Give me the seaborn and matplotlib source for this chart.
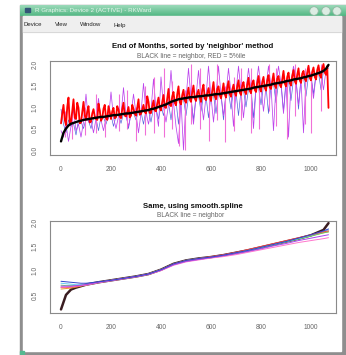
import numpy as np
import matplotlib
matplotlib.use("Agg")
import matplotlib.pyplot as plt
import seaborn as sns
from matplotlib.patches import Rectangle, Circle

sns.set_style("white")
plt.rcParams["font.family"] = ["Liberation Sans", "DejaVu Sans"]

# ----------------------------------------
# Data
# ----------------------------------------
x_idx = np.arange(0, 1071, 10)
x_mid = np.arange(5, 1066, 10)

neighbor = [
    0.20, 0.40, 0.50, 0.57, 0.61, 0.63, 0.65, 0.67, 0.68, 0.70,
    0.71, 0.72, 0.73, 0.74, 0.75, 0.76, 0.77, 0.77, 0.78, 0.79,
    0.80, 0.81, 0.81, 0.82, 0.83, 0.84, 0.85, 0.85, 0.86, 0.87,
    0.88, 0.89, 0.90, 0.91, 0.92, 0.93, 0.95, 0.96, 0.98, 1.00,
    1.02, 1.04, 1.06, 1.09, 1.12, 1.14, 1.16, 1.18, 1.19, 1.20,
    1.21, 1.22, 1.23, 1.23, 1.24, 1.25, 1.25, 1.26, 1.27, 1.27,
    1.28, 1.29, 1.30, 1.30, 1.31, 1.32, 1.33, 1.34, 1.35, 1.36,
    1.37, 1.38, 1.39, 1.40, 1.41, 1.42, 1.43, 1.45, 1.46, 1.47,
    1.48, 1.49, 1.50, 1.51, 1.52, 1.54, 1.55, 1.56, 1.57, 1.58,
    1.60, 1.61, 1.62, 1.64, 1.65, 1.66, 1.67, 1.69, 1.70, 1.72,
    1.73, 1.75, 1.77, 1.79, 1.81, 1.84, 1.89, 1.98,
]

# red 5%ile series, values at x = 0, 10, 20, ...
pct5_red = [
    0.62, 1.05, 0.58, 1.22, 0.66, 1.18, 0.72, 0.98, 0.64, 1.12,
    0.70, 1.02, 0.66, 0.95, 0.72, 1.08, 0.68, 0.96, 0.74, 1.02,
    0.72, 0.98, 0.76, 0.94, 0.74, 1.10, 0.78, 1.00, 0.80, 0.96,
    0.80, 1.18, 0.84, 1.05, 0.85, 1.12, 0.86, 1.15, 0.90, 1.22,
    0.92, 1.28, 0.98, 1.42, 1.02, 1.35, 1.04, 1.48, 1.06, 1.40,
    1.10, 1.45, 1.12, 1.50, 1.14, 1.40, 1.12, 1.52, 1.16, 1.44,
    1.14, 1.58, 1.18, 1.48, 1.20, 1.55, 1.22, 1.60, 1.24, 1.52,
    1.26, 1.62, 1.28, 1.58, 1.30, 1.68, 1.32, 1.62, 1.35, 1.72,
    1.36, 1.70, 1.38, 1.74, 1.42, 1.78, 1.44, 1.72, 1.46, 1.84,
    1.48, 1.80, 1.50, 1.86, 1.54, 1.90, 1.56, 1.84, 1.60, 1.96,
    1.62, 1.92, 1.64, 1.97, 1.68, 2.00, 1.75, 0.98,
]

# red 5%ile series, values at x = 5, 15, 25, ...
pct5_red_mid = [
    0.85, 0.70, 1.00, 0.60, 0.90, 0.75, 1.10, 0.62, 0.88, 0.80,
    0.90, 0.64, 0.85, 0.78, 0.70, 0.92, 0.74, 1.05, 0.70, 0.88,
    0.90, 0.74, 1.02, 0.78, 0.95, 0.80, 0.88, 0.76, 1.05, 0.84,
    0.98, 0.82, 0.95, 0.88, 1.25, 0.86, 1.02, 0.92, 1.08, 0.98,
    1.12, 1.00, 1.20, 1.05, 1.25, 1.10, 1.30, 1.12, 1.28, 1.15,
    1.30, 1.18, 1.35, 1.20, 1.32, 1.22, 1.40, 1.20, 1.32, 1.25,
    1.38, 1.25, 1.42, 1.28, 1.36, 1.30, 1.45, 1.30, 1.40, 1.34,
    1.48, 1.34, 1.50, 1.36, 1.52, 1.38, 1.55, 1.40, 1.56, 1.44,
    1.58, 1.45, 1.62, 1.46, 1.60, 1.50, 1.66, 1.52, 1.64, 1.55,
    1.70, 1.56, 1.72, 1.60, 1.75, 1.62, 1.78, 1.65, 1.80, 1.68,
    1.82, 1.70, 1.86, 1.74, 1.90, 1.80, 1.95,
]

violet = [
    0.45, 0.30, 0.60, 0.20, 0.55, 0.95, 0.45, 0.60, 0.30, 0.65,
    1.30, 0.65, 0.70, 0.40, 0.72, 1.20, 0.70, 0.45, 0.75, 0.72,
    1.35, 0.75, 0.50, 0.78, 0.80, 1.45, 0.80, 0.55, 0.82, 1.30,
    0.85, 0.40, 0.86, 1.55, 0.88, 0.60, 0.92, 1.65, 0.95, 0.55,
    1.70, 1.00, 0.65, 1.05, 1.85, 1.10, 0.55, 0.15, 1.15, 0.00,
    1.18, 1.90, 1.20, 0.60, 1.22, 1.85, 1.20, 0.70, 1.24, 1.95,
    1.25, 0.65, 1.28, 1.95, 1.28, 0.80, 1.30, 1.90, 1.32, 0.55,
    1.35, 1.95, 1.36, 0.75, 1.38, 1.90, 1.40, 0.50, 1.43, 1.95,
    1.45, 0.90, 1.47, 1.95, 1.49, 0.45, 1.52, 1.95, 1.54, 0.85,
    1.57, 0.30, 1.60, 1.95, 1.62, 1.05, 1.65, 0.40, 1.68, 1.95,
    1.70, 1.20, 1.74, 1.95, 1.78, 1.40, 1.86, 1.95,
]

blue = [
    0.95, 0.60, 0.40, 0.70, 0.55, 0.62, 0.35, 0.70, 0.66, 0.50,
    0.72, 0.68, 0.50, 0.75, 0.74, 0.45, 0.78, 0.76, 0.60, 0.80,
    0.82, 0.55, 0.80, 0.84, 0.62, 0.85, 0.86, 0.50, 0.88, 0.86,
    0.70, 0.90, 0.89, 0.60, 0.94, 0.92, 0.65, 0.98, 0.96, 0.72,
    1.04, 0.80, 1.08, 1.10, 0.70, 1.16, 1.15, 0.60, 1.20, 1.18,
    0.80, 1.24, 1.22, 0.70, 1.25, 1.26, 0.90, 1.27, 1.26, 0.75,
    1.30, 1.28, 0.85, 1.32, 1.30, 0.70, 1.34, 1.35, 0.95, 1.38,
    1.36, 0.80, 1.40, 1.39, 1.00, 1.42, 1.44, 0.75, 1.47, 1.46,
    1.05, 1.50, 1.49, 0.85, 1.53, 1.55, 1.10, 1.56, 1.58, 0.90,
    1.62, 1.60, 1.15, 1.65, 1.66, 0.95, 1.68, 1.70, 1.25, 1.73,
    1.74, 1.30, 1.78, 1.80, 1.40, 1.85, 1.88, 1.90,
]

# single-month pink spikes: position, low end, high end
pink_x = [15, 45, 95, 140, 175, 230, 265, 300, 335, 370, 410, 445, 470, 495, 520,
          555, 590, 625, 655, 690, 720, 760, 790, 830, 860, 905, 935, 975, 1000, 1040]
pink_lo = [0.30, 0.25, 0.35, 0.40, 0.30, 0.45, 0.50, 0.20, 0.35, 0.40, 0.30, 0.50,
           0.10, 0.00, 0.60, 0.50, 0.20, 0.70, 0.19, 0.45, 0.70, 0.40, 0.50, 0.90,
           0.55, 0.25, 0.80, 0.60, 0.40, 0.90]
pink_hi = [0.90, 0.80, 1.00, 1.30, 0.90, 1.30, 1.40, 1.00, 1.50, 1.70, 1.90, 1.60,
           1.30, 1.40, 2.00, 1.90, 1.60, 2.00, 1.50, 1.70, 1.90, 1.90, 1.80, 2.00,
           1.90, 1.70, 2.00, 1.90, 1.80, 2.00]

# smooth.spline fits (bottom panel)
x_spline = [0, 20, 40, 60, 80, 100, 150, 200, 250, 300, 350, 400, 450,
            500, 550, 600, 650, 700, 750, 800, 850, 900, 950, 1000, 1050, 1070]

neighbor_spline = [0.20, 0.50, 0.61, 0.65, 0.68, 0.71, 0.76, 0.80, 0.84, 0.88,
                   0.93, 1.02, 1.14, 1.21, 1.25, 1.28, 1.32, 1.37, 1.42, 1.48,
                   1.54, 1.60, 1.66, 1.73, 1.84, 1.98]

spline_fits = {
    "#e6a030": [0.62, 0.63, 0.64, 0.66, 0.68, 0.70, 0.76, 0.80, 0.84, 0.88,
                0.93, 1.02, 1.13, 1.20, 1.24, 1.28, 1.32, 1.37, 1.42, 1.48,
                1.54, 1.60, 1.66, 1.72, 1.78, 1.80],
    "#66cc66": [0.70, 0.69, 0.69, 0.69, 0.70, 0.71, 0.76, 0.80, 0.84, 0.88,
                0.93, 1.02, 1.14, 1.21, 1.25, 1.28, 1.32, 1.37, 1.42, 1.47,
                1.53, 1.59, 1.65, 1.71, 1.78, 1.80],
    "#66ccee": [0.74, 0.73, 0.72, 0.71, 0.71, 0.72, 0.76, 0.80, 0.84, 0.88,
                0.93, 1.02, 1.13, 1.21, 1.25, 1.28, 1.32, 1.37, 1.42, 1.48,
                1.54, 1.60, 1.66, 1.73, 1.81, 1.84],
    "#ee4444": [0.65, 0.65, 0.66, 0.67, 0.69, 0.71, 0.76, 0.80, 0.84, 0.88,
                0.93, 1.02, 1.14, 1.21, 1.25, 1.29, 1.33, 1.38, 1.44, 1.50,
                1.56, 1.62, 1.68, 1.74, 1.80, 1.82],
    "#ff77cc": [0.66, 0.66, 0.67, 0.68, 0.69, 0.70, 0.75, 0.79, 0.83, 0.87,
                0.92, 1.00, 1.11, 1.18, 1.22, 1.26, 1.29, 1.33, 1.38, 1.43,
                1.48, 1.53, 1.58, 1.62, 1.66, 1.68],
    "#aa44ee": [0.68, 0.68, 0.68, 0.69, 0.70, 0.71, 0.76, 0.80, 0.84, 0.88,
                0.93, 1.01, 1.12, 1.19, 1.23, 1.27, 1.31, 1.35, 1.40, 1.45,
                1.51, 1.56, 1.62, 1.67, 1.72, 1.74],
    "#3344cc": [0.78, 0.77, 0.76, 0.75, 0.74, 0.74, 0.77, 0.80, 0.84, 0.88,
                0.93, 1.02, 1.14, 1.21, 1.25, 1.28, 1.32, 1.37, 1.42, 1.48,
                1.54, 1.60, 1.67, 1.74, 1.82, 1.86],
}

x_ticks = [0, 200, 400, 600, 800, 1000]
y_ticks_top = [0.0, 0.5, 1.0, 1.5, 2.0]
y_ticks_bottom = [0.5, 1.0, 1.5, 2.0]

# interleave the two red lists into one series on a 5-step grid
red_x = np.empty(len(x_idx) + len(x_mid))
red_y = np.empty_like(red_x)
red_x[0::2], red_x[1::2] = x_idx, x_mid
red_y[0::2], red_y[1::2] = pct5_red, pct5_red_mid

# ----------------------------------------
# Figure + window chrome (pixel coords)
# ----------------------------------------
W, H = 346, 355
fig = plt.figure(figsize=(W / 100, H / 100), dpi=100)
fig.patch.set_facecolor("white")

bg = fig.add_axes([0, 0, 1, 1], zorder=0)
bg.set_xlim(0, W)
bg.set_ylim(H, 0)
bg.axis("off")

bg.add_patch(Rectangle((20, 5), 326, 350, color="#8e8e8e"))
bg.add_patch(Rectangle((23, 16), 318, 335, color="white"))
bg.add_patch(Rectangle((20, 351), 4, 4, color="#55b890"))

grad = np.linspace(0, 1, 12)[:, None, None]
top_c = np.array([0.60, 0.85, 0.72])
bot_c = np.array([0.33, 0.72, 0.52])
bar = np.repeat(top_c * (1 - grad) + bot_c * grad, 2, axis=1)
bg.imshow(bar, extent=[20, 346, 16, 5], aspect="auto", zorder=1)
bg.set_xlim(0, W)
bg.set_ylim(H, 0)

bg.add_patch(Rectangle((25, 8), 5, 4, color="#335577", zorder=2))
bg.text(35, 10.5, "R Graphics: Device 2 (ACTIVE) - RKWard", fontsize=4.5,
        color="#e4f4ea", va="center", ha="left", zorder=2)
for cx in [314, 326, 337]:
    bg.add_patch(Circle((cx, 11), 4.3, facecolor="#dcece3",
                        edgecolor="#8fb9a2", lw=0.6, zorder=2))

bg.add_patch(Rectangle((23, 16), 318, 16, color="#efefef", zorder=1))
bg.plot([23, 341], [32, 32], color="#d4d4d4", lw=0.6, zorder=2)
for label, mx in [("Device", 24), ("View", 55), ("Window", 80), ("Help", 113)]:
    bg.text(mx, 25, label, fontsize=4.3, color="#222", va="center",
            ha="left", zorder=2)

bg.text(193, 46, "End of Months, sorted by 'neighbor' method", fontsize=5.6,
        fontweight="bold", ha="center", va="center", color="#111")
bg.text(191, 56.5, "BLACK line = neighbor, RED = 5%ile", fontsize=4.8,
        ha="center", va="center", color="#666")
bg.text(193, 207, "Same, using smooth.spline", fontsize=5.6,
        fontweight="bold", ha="center", va="center", color="#111")
bg.text(191, 215.5, "BLACK line = neighbor", fontsize=4.8,
        ha="center", va="center", color="#666")


def style_axes(ax, yticks, ylim):
    ax.set_xlim(-44, 1100)
    ax.set_ylim(*ylim)
    ax.set_xticks(x_ticks)
    ax.set_xticklabels([str(t) for t in x_ticks])
    ax.set_yticks(yticks)
    ax.set_yticklabels([f"{t:.1f}" for t in yticks], rotation=90, va="center")
    ax.tick_params(direction="out", length=3, width=0.6, color="#888",
                   labelsize=4.8, labelcolor="#666", pad=5)
    for s in ax.spines.values():
        s.set_color("#8a8a8a")
        s.set_linewidth(0.8)
    ax.set_xlabel("")
    ax.set_ylabel("")
    ax.set_facecolor("white")


# ========================================
# 1. Top panel: sorted by neighbor
# ========================================
ax1 = fig.add_axes([50 / W, 1 - 155 / H, 286 / W, 94 / H], zorder=3)

sns.lineplot(x=x_idx, y=blue, ax=ax1, color="#5566dd", lw=0.5,
             estimator=None, sort=False, legend=False)
sns.lineplot(x=x_idx, y=violet, ax=ax1, color="#bb44ee", lw=0.55,
             estimator=None, sort=False, legend=False)
ax1.vlines(pink_x, pink_lo, pink_hi, color="#f070d8", lw=0.8)
sns.lineplot(x=red_x, y=red_y, ax=ax1, color="#ff0000", lw=1.3,
             estimator=None, sort=False, legend=False)
sns.lineplot(x=x_idx, y=neighbor, ax=ax1, color="black", lw=1.7,
             estimator=None, sort=False, legend=False)

style_axes(ax1, y_ticks_top, (-0.116, 2.07))

# ========================================
# 2. Bottom panel: smooth.spline
# ========================================
ax2 = fig.add_axes([50 / W, 1 - 313.3 / H, 286 / W, 92.6 / H], zorder=3)

sns.lineplot(x=x_spline, y=neighbor_spline, ax=ax2, color="#3a1c20", lw=1.8,
             estimator=None, sort=False, legend=False)
for col, vals in spline_fits.items():
    sns.lineplot(x=x_spline, y=vals, ax=ax2, color=col, lw=0.7,
                 estimator=None, sort=False, legend=False)

style_axes(ax2, y_ticks_bottom, (0.12, 2.03))

plt.savefig("out.png", dpi=100)
plt.close()

print("Saved out.png")
